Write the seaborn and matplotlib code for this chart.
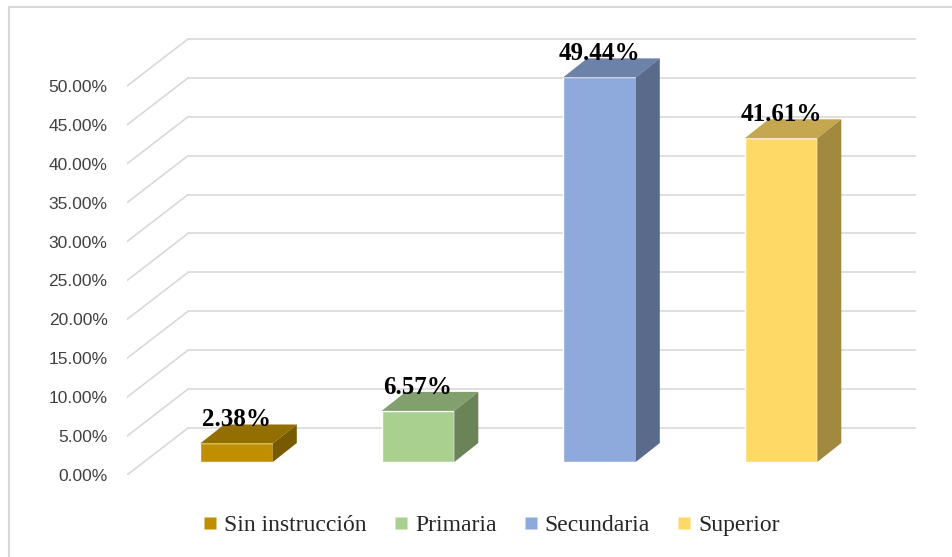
import numpy as np
import seaborn as sns
import matplotlib.pyplot as plt
from matplotlib.patches import Polygon, Rectangle
from matplotlib.lines import Line2D
from matplotlib.colors import to_rgb

# data
categories = ['Sin instrucción', 'Primaria', 'Secundaria', 'Superior']
values = [2.38, 6.57, 49.44, 41.61]
colors = ['#BF8F00', '#A9D08E', '#8EA9DB', '#FFD966']
ticks = [0, 5, 10, 15, 20, 25, 30, 35, 40, 45, 50]
tick_labels = ['%.2f%%' % t for t in ticks]

sns.set_style('white')
plt.rcParams['font.family'] = ['Liberation Sans', 'DejaVu Sans']

fig = plt.figure(figsize=(9.53, 5.57), dpi=100)
W, H = 953, 557
# axes box (pixels): left 127, right 916, top 38, bottom 475
ax = fig.add_axes([127 / W, 1 - 475 / H, (916 - 127) / W, (475 - 38) / H])
ax.patch.set_alpha(0)

# 3d look: offsets in data units
px_x = 181.5          # pixels per category
px_y = 7.78           # pixels per percent
ddx, ddy = 24 / px_x, 19 / px_y          # bar depth
wall_dx, wall_dy = 44.5 / px_x, 34 / px_y  # back wall offset
front_dy = 13 / px_y                     # front plane (tick labels)
x_left = (127 - 236.5) / px_x
x_wall0 = (188 - 236.5) / px_x
x_wall1 = (916 - 236.5) / px_x

# back wall grid + side wall diagonals
for t in ticks:
    ax.plot([x_wall0, x_wall1], [t + wall_dy, t + wall_dy], color='#d9d9d9', lw=1.2, zorder=0)
    ax.plot([x_left, x_wall0], [t - front_dy, t + wall_dy], color='#d9d9d9', lw=1.2, zorder=0)

sns.barplot(x=categories, y=values, hue=categories, palette=colors, width=0.4,
            saturation=1, legend=False, ax=ax, zorder=3)

for p, c in zip(ax.patches, colors):
    x0, w, h = p.get_x(), p.get_width(), p.get_height()
    rgb = np.array(to_rgb(c))
    top = Polygon([(x0, h), (x0 + w, h), (x0 + w + ddx, h + ddy), (x0 + ddx, h + ddy)],
                  closed=True, facecolor=rgb * 0.77, edgecolor='none', zorder=3)
    side = Polygon([(x0 + w, 0), (x0 + w + ddx, ddy), (x0 + w + ddx, h + ddy), (x0 + w, h)],
                   closed=True, facecolor=rgb * 0.63, edgecolor='none', zorder=3)
    ax.add_patch(top)
    ax.add_patch(side)
    ax.text(x0 + w / 2, h + 2.2, '%.2f%%' % h, ha='center', va='baseline',
            fontsize=18, fontweight='bold', family='Liberation Serif', color='black',
            zorder=5, clip_on=False)

ax.set_xlim(x_left, x_wall1)
ax.set_ylim(-front_dy, (462 - 38) / px_y)
ax.set_yticks([t - front_dy for t in ticks])
ax.set_yticklabels(tick_labels, fontsize=12.5, color='#404040')
ax.tick_params(axis='y', length=0, pad=14)
ax.set_xticks([])
ax.set_xlabel('')
ax.set_ylabel('')
for s in ax.spines.values():
    s.set_visible(False)

# legend
handles = [Line2D([], [], marker='s', linestyle='none', markersize=8,
                  markerfacecolor=c, markeredgecolor='none') for c in colors]
fig.legend(handles, categories, loc='center', bbox_to_anchor=(489 / W, 1 - 525 / H),
           ncol=4, frameon=False, handletextpad=0.1, columnspacing=0.95,
           handlelength=1.0, prop={'family': 'Liberation Serif', 'size': 17})

# chart frame
fig.add_artist(Rectangle((9 / W, -0.1), 1.2, 1.1 - 7 / H, transform=fig.transFigure,
                         fill=False, edgecolor='#d9d9d9', lw=1.5))

fig.savefig('out.png', dpi=100)
